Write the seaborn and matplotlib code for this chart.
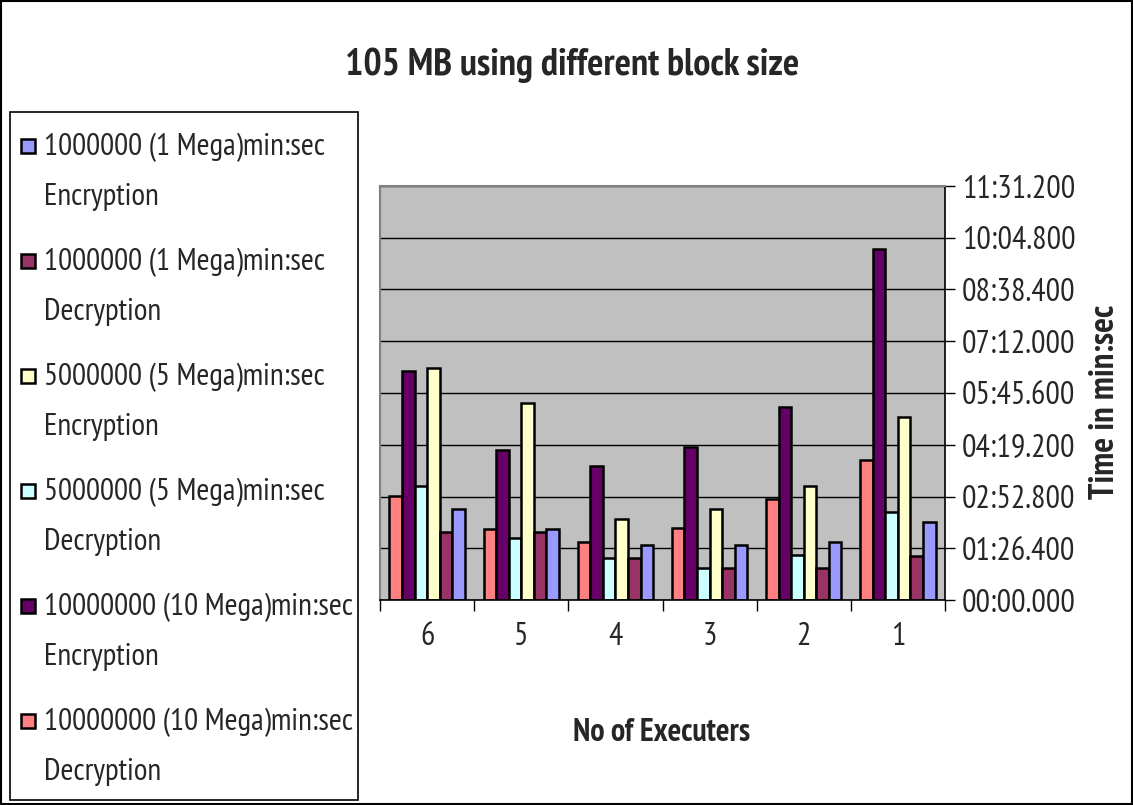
import pandas as pd
import seaborn as sns
import matplotlib.pyplot as plt
from matplotlib.patches import Rectangle
from matplotlib.legend_handler import HandlerPatch
from matplotlib.ticker import FuncFormatter, MultipleLocator, FixedLocator

# Data, in seconds
executers = ['6', '5', '4', '3', '2', '1']
dec_10m = [174, 119, 97, 120, 169, 234]
enc_10m = [383, 251, 224, 256, 322, 586]
dec_5m = [191, 103, 70, 53, 75, 147]
enc_5m = [388, 329, 135, 152, 191, 305]
dec_1m = [114, 114, 70, 53, 53, 74]
enc_1m = [152, 119, 92, 92, 97, 130]

series = ['10000000 (10 Mega)min:sec\nDecryption',
          '10000000 (10 Mega)min:sec\nEncryption',
          '5000000 (5 Mega)min:sec\nDecryption',
          '5000000 (5 Mega)min:sec\nEncryption',
          '1000000 (1 Mega)min:sec\nDecryption',
          '1000000 (1 Mega)min:sec\nEncryption']
values = [dec_10m, enc_10m, dec_5m, enc_5m, dec_1m, enc_1m]
colors = ['#FF8080', '#660066', '#CCFFFF', '#FFFFCC', '#993366', '#9999FF']

rows = []
for name, vals in zip(series, values):
    for ex, v in zip(executers, vals):
        rows.append({'executers': ex, 'seconds': v, 'series': name})
df = pd.DataFrame(rows)

sns.set_style('white')
plt.rcParams['font.family'] = ['PT Sans Narrow', 'Roboto Condensed', 'DejaVu Sans']

fig = plt.figure(figsize=(11.33, 8.05), dpi=100)
ax = fig.add_axes([380 / 1133, 1 - 600 / 805, 565 / 1133, 414 / 805])
ax.set_facecolor('#C0C0C0')

sns.barplot(data=df, x='executers', y='seconds', hue='series', order=executers,
            hue_order=series, palette=colors, saturation=1, width=0.8,
            edgecolor='black', linewidth=1.8, legend=False, ax=ax)

ax.set_ylim(0, 691.2)
ax.set_xlim(-0.5, 5.5)
ax.yaxis.set_major_locator(MultipleLocator(86.4))


def fmt(s, pos):
    s = round(s, 3)
    return f"{int(s // 60):02d}:{s - 60 * int(s // 60):06.3f}"


ax.yaxis.set_major_formatter(FuncFormatter(fmt))
ax.yaxis.tick_right()
ax.grid(axis='y', color='black', linewidth=1)
ax.set_axisbelow(True)
ax.tick_params(axis='y', which='major', direction='out', length=7, width=1,
               color='black', labelsize=23, pad=5, right=True, left=False)
ax.xaxis.set_minor_locator(FixedLocator([i - 0.5 for i in range(7)]))
ax.tick_params(axis='x', which='major', length=0, labelsize=23, pad=16)
ax.tick_params(axis='x', which='minor', direction='out', length=8, width=1,
               color='black', bottom=True)
ax.set_xlabel('')
ax.set_ylabel('')
for side in ['left', 'top']:
    ax.spines[side].set_color('#808080')
    ax.spines[side].set_linewidth(1.5)
for side in ['right', 'bottom']:
    ax.spines[side].set_color('black')
    ax.spines[side].set_linewidth(1.2)

fig.text(572 / 1133, 1 - 65 / 805, '105 MB using different block size',
         ha='center', va='center', fontsize=27.5, fontweight='bold')
fig.text(662 / 1133, 1 - 733 / 805, 'No of Executers',
         ha='center', va='center', fontsize=23, fontweight='bold')
fig.text(1105 / 1133, 1 - 402 / 805, 'Time in min:sec', rotation=90,
         ha='center', va='center', fontsize=25, fontweight='bold')

# legend, reversed like the original, square on the first line of each entry
line_sp = 1.95
fsize = 22.5


def first_line_square(legend, orig_handle, xdescent, ydescent, width, height, fontsize):
    s = width
    shift = 0.5 * line_sp * fontsize * 0.85
    return Rectangle((-xdescent, -ydescent + height / 2 - s / 2 + shift), s, s)


# legend frame drawn on its own so it can span the full left strip
fig.patches.append(Rectangle((10 / 1133, 1 - 800 / 805), 348 / 1133, 688 / 805,
                             transform=fig.transFigure, facecolor='white',
                             edgecolor='black', linewidth=1.2, zorder=1))

handles = [Rectangle((0, 0), 1, 1, facecolor=c, edgecolor='black', linewidth=1.8)
           for c in colors][::-1]
leg = fig.legend(handles, series[::-1], loc='upper left',
                 bbox_to_anchor=(21 / 1133, 1 - 133 / 805), fontsize=fsize,
                 frameon=False, handlelength=0.45, handletextpad=0.3,
                 labelspacing=1.18, borderpad=0, borderaxespad=0,
                 handler_map={Rectangle: HandlerPatch(patch_func=first_line_square)})
for t in leg.get_texts():
    t.set_linespacing(line_sp)

fig.patches.append(Rectangle((0.001, 0.001), 0.998, 0.998, transform=fig.transFigure,
                             fill=False, edgecolor='black', linewidth=1.5))

fig.savefig('out.png', dpi=100, facecolor='white')
